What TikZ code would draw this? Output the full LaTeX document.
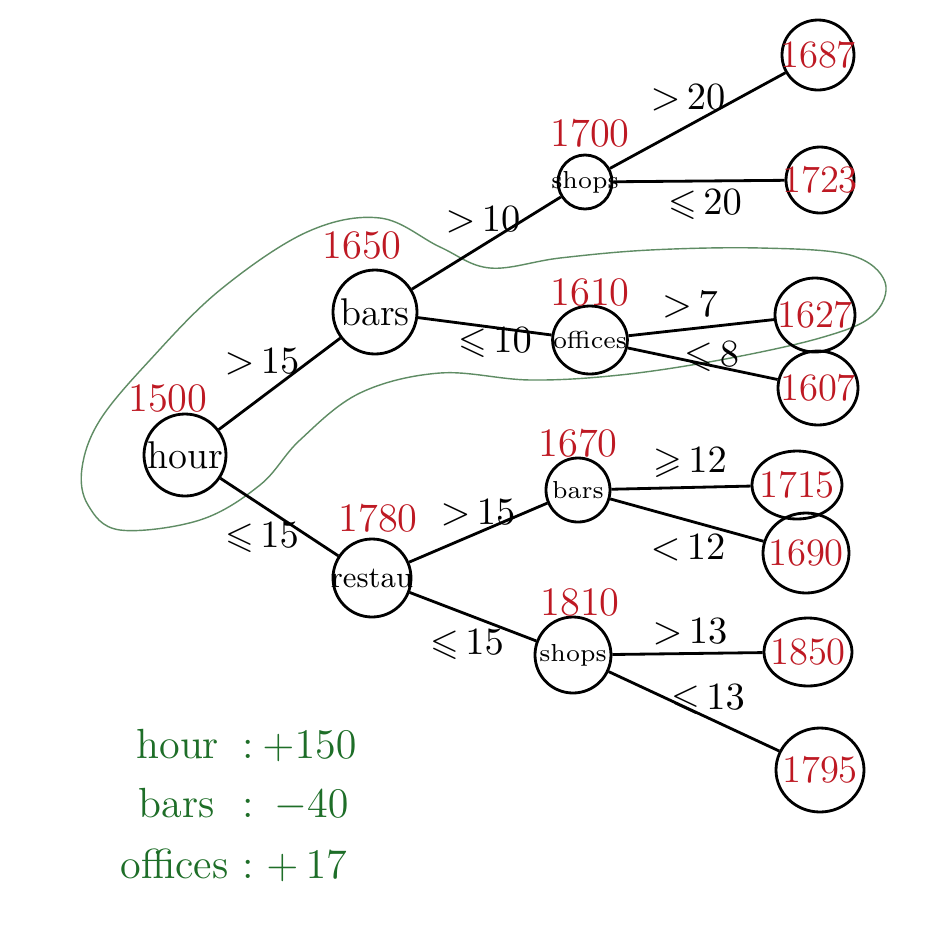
\documentclass[tikz,border=0pt]{standalone}
\usepackage{amssymb}
\usetikzlibrary{shapes.geometric}
\definecolor{scorered}{RGB}{190,25,35}
\definecolor{penold}{RGB}{30,110,40}
\definecolor{lasso}{RGB}{95,140,100}
\tikzset{
  split/.style={circle, draw, thick, inner sep=-2pt, font=\fontsize{11}{13}\selectfont},
  smallsplit/.style={circle, draw, thick, inner sep=-3pt, font=\fontsize{7}{9}\selectfont},
  leaf/.style={ellipse, draw, thick, text=scorered, inner sep=-4pt, font=\fontsize{11}{13}\selectfont},
  score/.style={text=scorered, font=\fontsize{11.5}{14}\selectfont},
  cond/.style={font=\fontsize{10.5}{12}\selectfont},
  weight/.style={text=penold, anchor=base west, font=\fontsize{12}{14}\selectfont},
  branch/.style={thick}
}
\begin{document}
\begin{tikzpicture}[x=0.1mm,y=-0.1mm]
	\useasboundingbox (0,0) rectangle (942,951);
	\fill[white] (0,0) rectangle (942,951);
	
	% green outline round the chosen path
	\draw[lasso] plot[smooth cycle, tension=0.6] coordinates {(82,468) (100,420) (150,360) (220,290) (307,232) (380,218) (440,247) (490,268) (560,258) (650,250) (760,248) (850,255) (885,282) (872,316) (820,338) (720,360) (620,375) (530,380) (440,373) (360,393) (300,440) (260,485) (200,520) (120,530) (88,505)};
	
	% splits
	\node[split, minimum size=8.2mm] (hour) at (185,455) {hour};
	\node[split, minimum size=8.4mm] (bars) at (375,312) {bars};
	\node[split, minimum size=7.8mm, font=\fontsize{8.5}{10}\selectfont] (restau) at (372,578) {restau};
	\node[smallsplit, minimum size=5.4mm] (shopsA) at (585,182) {shops};
	\node[smallsplit, ellipse, minimum width=6mm, minimum height=6.8mm] (offices) at (590,340) {offices};
	\node[smallsplit, minimum size=6.4mm] (barsB) at (578,490) {bars};
	\node[smallsplit, minimum size=7.6mm] (shopsB) at (573,655) {shops};
	
	% leaves
	\node[leaf, minimum width=7.2mm, minimum height=7mm] (l1687) at (818,55) {1687};
	\node[leaf, minimum width=6.8mm, minimum height=6.6mm] (l1723) at (820,180) {1723};
	\node[leaf, minimum width=8mm, minimum height=7.4mm] (l1627) at (815,315) {1627};
	\node[leaf, minimum width=8mm, minimum height=7.4mm] (l1607) at (818,388) {1607};
	\node[leaf, minimum width=9mm, minimum height=6.8mm] (l1715) at (797,485) {1715};
	\node[leaf, minimum width=8.6mm, minimum height=8mm] (l1690) at (806,553) {1690};
	\node[leaf, minimum width=8.8mm, minimum height=6.8mm] (l1850) at (808,652) {1850};
	\node[leaf, minimum width=8.8mm, minimum height=8.4mm] (l1795) at (820,770) {1795};
	
	% scores above the splits
	\node[score] (s1500) at (168,398) {1500};
	\node[score] (s1650) at (362,245) {1650};
	\node[score] (s1700) at (590,133) {1700};
	\node[score] (s1610) at (590,292) {1610};
	\node[score] (s1780) at (378,518) {1780};
	\node[score] (s1670) at (578,443) {1670};
	\node[score] (s1810) at (580,602) {1810};
	
	% branches
	\draw[branch] (hour) -- (bars);
	\draw[branch] (hour) -- (restau);
	\draw[branch] (bars) -- (shopsA);
	\draw[branch] (bars) -- (offices);
	\draw[branch] (shopsA) -- (l1687);
	\draw[branch] (shopsA) -- (l1723);
	\draw[branch] (offices) -- (l1627);
	\draw[branch] (offices) -- (l1607);
	\draw[branch] (restau) -- (barsB);
	\draw[branch] (restau) -- (shopsB);
	\draw[branch] (barsB) -- (l1715);
	\draw[branch] (barsB) -- (l1690);
	\draw[branch] (shopsB) -- (l1850);
	\draw[branch] (shopsB) -- (l1795);
	
	% conditions
	\node[cond] (c1) at (262,362) {${>}\,15$};
	\node[cond] (c2) at (262,538) {${\leqslant}\,15$};
	\node[cond] (c3) at (483,220) {${>}\,10$};
	\node[cond] (c4) at (495,343) {${\leqslant}\,10$};
	\node[cond] (c5) at (688,98) {${>}\,20$};
	\node[cond] (c6) at (705,205) {${\leqslant}\,20$};
	\node[cond] (c7) at (690,305) {${>}\,7$};
	\node[cond] (c8) at (712,357) {${\leqslant}\,8$};
	\node[cond] (c9) at (478,513) {${>}\,15$};
	\node[cond] (c10) at (467,645) {${\leqslant}\,15$};
	\node[cond] (c11) at (690,463) {${\geqslant}\,12$};
	\node[cond] (c12) at (688,548) {${<}\,12$};
	\node[cond] (c13) at (690,632) {${>}\,13$};
	\node[cond] (c14) at (708,700) {${\leqslant}\,13$};
	
	% weights
	\node[weight] (w1) at (124,758) {hour};
	\node[weight] (w1c) at (230,758) {:};
	\node[weight] (w1v) at (250,758) {$+150$};
	\node[weight] (w2) at (126,817) {bars};
	\node[weight] (w2c) at (230,817) {:};
	\node[weight] (w2v) at (262,817) {$-40$};
	\node[weight] (w3) at (108,878) {offices};
	\node[weight] (w3c) at (230,878) {:};
	\node[weight] (w3v) at (254,878) {$+\,17$};
	
\end{tikzpicture}
\end{document}
